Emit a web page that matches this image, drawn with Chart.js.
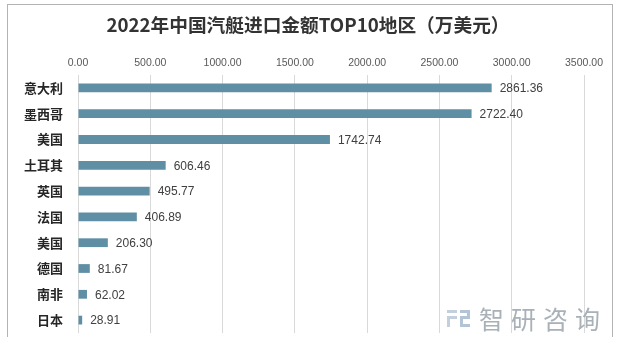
<!DOCTYPE html>
<html>
<head>
<meta charset="utf-8">
<script src="https://cdn.jsdelivr.net/npm/chart.js@4"></script>
<style>
  html, body { margin: 0; padding: 0; background: #fff; overflow: hidden; }
  #wrap { position: relative; width: 622px; height: 337px; }
</style>
</head>
<body>
<div id="wrap"><canvas id="chart"></canvas></div>
<script>
// 2022 China motorboat imports, top 10 origins (10k USD)
const regions = ['意大利', '墨西哥', '美国', '土耳其', '英国', '法国', '美国', '德国', '南非', '日本'];
const amounts = [2861.36, 2722.40, 1742.74, 606.46, 495.77, 406.89, 206.30, 81.67, 62.02, 28.91];
const axisMax = 3500;
const axisStep = 500;
const titleText = '2022年中国汽艇进口金额TOP10地区（万美元）';

const barColor = '#5f8fa5';

// value labels at the end of each bar
const valueLabels = {
    id: 'valueLabels',
    afterDatasetsDraw(chart) {
        const ctx = chart.ctx;
        const meta = chart.getDatasetMeta(0);
        ctx.save();
        ctx.font = '12px "Liberation Sans", sans-serif';
        ctx.fillStyle = '#404040';
        ctx.textAlign = 'left';
        ctx.textBaseline = 'middle';
        meta.data.forEach((bar, i) => {
            ctx.fillText(amounts[i].toFixed(2), bar.x + 8, bar.y + 1);
        });
        ctx.restore();
    }
};

// frame, title and watermark
const frame = {
    id: 'frame',
    beforeDraw(chart) {
        const ctx = chart.ctx;
        ctx.save();
        ctx.fillStyle = '#fff';
        ctx.fillRect(0, 0, chart.width, chart.height);
        ctx.strokeStyle = '#b3b3b3';
        ctx.lineWidth = 1;
        ctx.strokeRect(7.5, 4.5, 605, chart.height + 10);
        ctx.font = 'bold 18.7px "Noto Sans CJK SC", sans-serif';
        ctx.fillStyle = '#333333';
        ctx.textAlign = 'center';
        ctx.textBaseline = 'middle';
        ctx.fillText(titleText, chart.width / 2 - 3, 25);
        ctx.restore();
    },
    afterDraw(chart) {
        const ctx = chart.ctx;
        ctx.save();
        // logo mark
        ctx.fillStyle = '#c3cfdc';
        ctx.fillRect(447, 310, 10, 3);
        ctx.fillRect(447, 316, 10, 3);
        ctx.fillRect(447, 316, 3, 11);
        ctx.fillStyle = '#b3c4d6';
        ctx.fillRect(460, 310, 10, 3);
        ctx.fillRect(467, 310, 3, 9);
        ctx.fillRect(460, 316, 10, 3);
        ctx.fillRect(460, 316, 3, 11);
        ctx.fillRect(460, 324, 10, 3);
        // logo text
        ctx.font = '25px "Noto Sans CJK SC", sans-serif';
        ctx.fillStyle = '#a8b0b8';
        ctx.letterSpacing = '7px';
        ctx.textBaseline = 'middle';
        ctx.fillText('智研咨询', 479, 319);
        ctx.restore();
    }
};

new Chart(document.getElementById('chart'), {
    type: 'bar',
    data: {
        labels: regions,
        datasets: [{
            data: amounts,
            backgroundColor: barColor,
            categoryPercentage: 1,
            barPercentage: 0.34
        }]
    },
    options: {
        indexAxis: 'y',
        responsive: true,
        maintainAspectRatio: false,
        animation: false,
        layout: { padding: { left: 0, right: 38, top: 43, bottom: 4 } },
        plugins: {
            legend: { display: false },
            tooltip: { enabled: false },
            title: { display: false }
        },
        scales: {
            x: {
                position: 'top',
                min: 0,
                max: axisMax,
                ticks: {
                    stepSize: axisStep,
                    color: '#595959',
                    font: { size: 10.5, family: '"Liberation Sans", sans-serif' },
                    padding: 6,
                    maxRotation: 0,
                    callback: v => v.toFixed(2)
                },
                grid: { color: '#d9d9d9', drawTicks: false },
                border: { display: false },
                afterFit: s => { s.height = 32; }
            },
            y: {
                ticks: {
                    color: '#262626',
                    font: { size: 13, weight: 'bold', family: '"Noto Sans CJK SC", sans-serif' },
                    padding: 7
                },
                grid: { display: false },
                border: { display: false },
                afterFit: s => {
                    s.width = 78;
                    s.paddingTop = 0;
                    s.paddingBottom = 0;
                }
            }
        }
    },
    plugins: [frame, valueLabels]
});
</script>
</body>
</html>
